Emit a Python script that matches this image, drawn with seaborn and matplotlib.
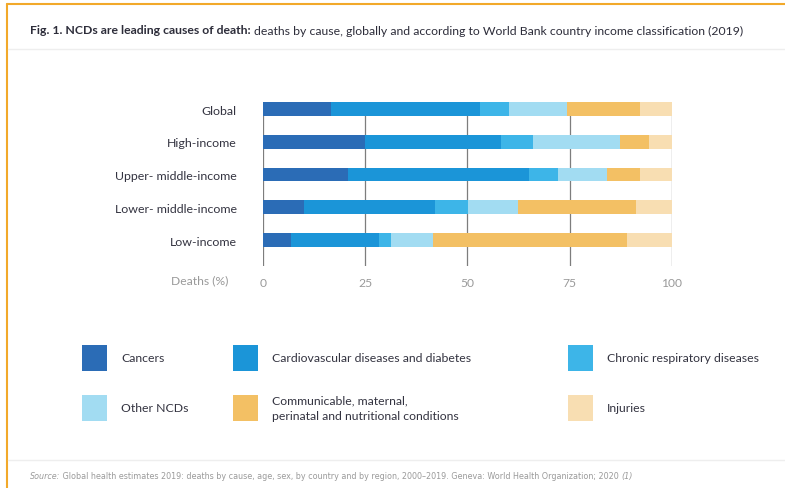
import numpy as np
import pandas as pd
import matplotlib
matplotlib.use("Agg")
import matplotlib.pyplot as plt
import seaborn as sns
from matplotlib.patches import Rectangle
from matplotlib.lines import Line2D

# data (deaths, %)
regions = ["Global", "High-income", "Upper- middle-income", "Lower- middle-income", "Low-income"]
causes = ["Cancers", "Cardiovascular diseases and diabetes", "Chronic respiratory diseases",
          "Other NCDs", "Communicable, maternal,\nperinatal and nutritional conditions", "Injuries"]
cancers = [16.7, 24.9, 20.9, 10.0, 6.9]
cardio = [36.3, 33.2, 44.2, 32.0, 21.4]
respiratory = [7.1, 8.0, 7.1, 8.2, 2.9]
other_ncds = [14.2, 21.2, 12.0, 12.1, 10.3]
communicable = [17.9, 7.0, 8.0, 28.8, 47.5]
injuries = [7.8, 5.7, 7.8, 8.9, 11.0]
colors = ["#2b6cb6", "#1b95d8", "#3db5e8", "#a2dcf2", "#f3c064", "#f8deb2"]
xticks = [0, 25, 50, 75, 100]

sns.set_style("white")
plt.rcParams["font.family"] = ["Lato", "DejaVu Sans"]

df = pd.DataFrame({"region": regions, "c0": cancers, "c1": cardio, "c2": respiratory,
                   "c3": other_ncds, "c4": communicable, "c5": injuries})
series = ["c0", "c1", "c2", "c3", "c4", "c5"]
# cumulative sums so that seaborn can draw stacked bars back-to-front
cum = df[series].cumsum(axis=1)

fig = plt.figure(figsize=(7.85, 4.89), dpi=100)
ax = fig.add_axes([0.335, 0.454, 0.521, 0.335])

for i in range(len(series) - 1, -1, -1):
    sns.barplot(x=cum[series[i]], y=df["region"], color=colors[i], orient="h",
                width=0.42, ax=ax, zorder=3, saturation=1, linewidth=0)

ax.set_xlim(0, 100)
ax.set_ylim(4.79, -0.21)
ax.set_xticks(xticks)
ax.set_xticklabels([str(t) for t in xticks], color="#9a9a9a", fontsize=8.7)
ax.tick_params(axis="x", length=0, pad=8)
ax.tick_params(axis="y", length=0, pad=19, labelsize=8.9, labelcolor="#333340")
ax.set_xlabel("")
ax.set_ylabel("")
for t in xticks:
    ax.axvline(t, color="#7d7d7d", lw=0.9, zorder=1)
for s in ax.spines.values():
    s.set_visible(False)
fig.text(200 / 785, 1 - 281 / 489, "Deaths (%)", color="#9a9a9a", fontsize=8.7,
         ha="center", va="center")

# frame lines
fig.add_artist(Line2D([7 / 785, 1], [1 - 5 / 489] * 2, color="#f2a92a", lw=1.5))
fig.add_artist(Line2D([7 / 785] * 2, [0, 1 - 5 / 489], color="#f2a92a", lw=1.5))
fig.add_artist(Line2D([8 / 785, 1], [1 - 50 / 489] * 2, color="#eeeeee", lw=1.0))
fig.add_artist(Line2D([8 / 785, 1], [1 - 461 / 489] * 2, color="#eeeeee", lw=1.0))

# title: bold lead then regular text
tb = fig.text(30 / 785, 1 - 31 / 489, "Fig. 1. NCDs are leading causes of death:",
              fontsize=8.8, fontweight="bold", color="#2d2d3a", va="center")
fig.canvas.draw()
rend = fig.canvas.get_renderer()
bb = tb.get_window_extent(renderer=rend)
fig.text(bb.x1 / fig.bbox.width + 3 / 785, 1 - 31 / 489,
         "deaths by cause, globally and according to World Bank country income classification (2019)",
         fontsize=8.8, color="#2d2d3a", va="center")

# legend drawn by hand to follow the uneven column layout
col_x = [82, 233, 568]
row_y = [359, 409]
for k, (name, c) in enumerate(zip(causes, colors)):
    cx = col_x[k % 3]
    cy = row_y[k // 3]
    fig.add_artist(Rectangle((cx / 785, 1 - (cy + 13) / 489), 25 / 785, 26 / 489,
                             transform=fig.transFigure, color=c, lw=0))
    fig.text((cx + 39) / 785, 1 - cy / 489, name, fontsize=8.8, color="#333340",
             va="center", linespacing=1.5)

# source line, pieces placed one after another
src_font = ["Liberation Sans Narrow", "DejaVu Sans"]
pieces = [("Source:", "italic"),
          (" Global health estimates 2019: deaths by cause, age, sex, by country and by region, "
           "2000\u20132019. Geneva: World Health Organization; 2020 ", "normal"),
          ("(1)", "italic")]
x0 = 30 / 785
for txt, st in pieces:
    t = fig.text(x0, 1 - 477 / 489, txt, fontsize=5.8, color="#9a9a9a", va="center",
                 style=st, family=src_font)
    fig.canvas.draw()
    x0 = t.get_window_extent(renderer=rend).x1 / fig.bbox.width

fig.savefig("out.png", dpi=100, facecolor="white")
